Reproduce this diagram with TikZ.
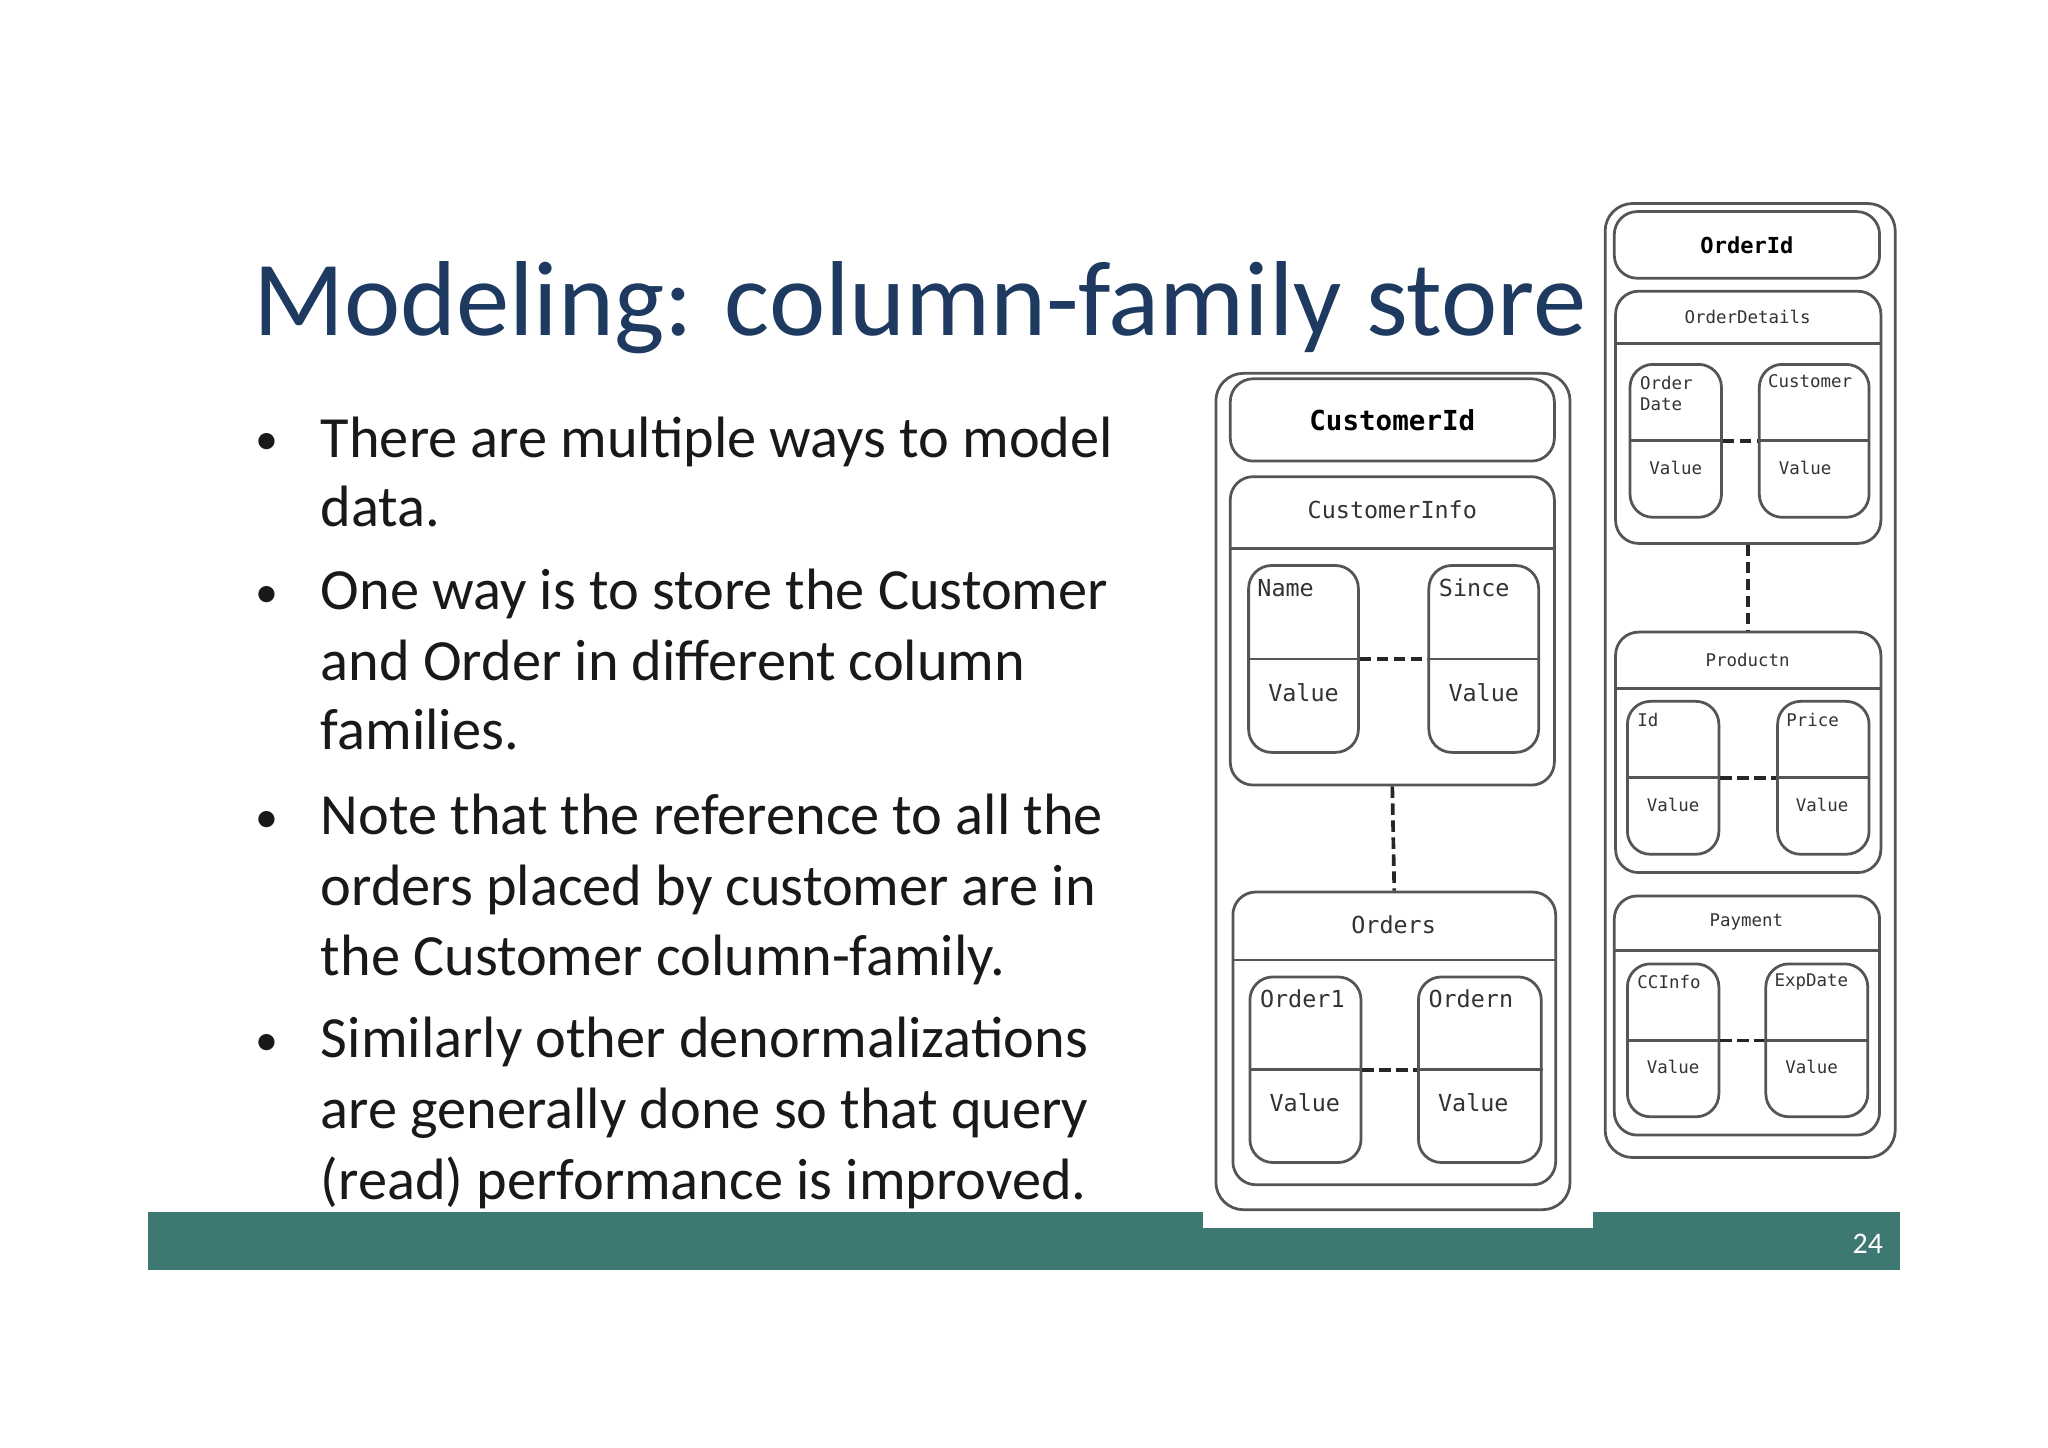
\documentclass[tikz,border=0pt]{standalone}
\usepackage{fontspec}
\setmainfont{Carlito}
\newfontfamily\cfmono{DejaVu Sans Mono}
\usetikzlibrary{positioning}
\definecolor{titleblue}{HTML}{1F3A60}
\definecolor{barteal}{HTML}{3D7872}
\definecolor{boxline}{HTML}{555555}

\begin{document}
\begin{tikzpicture}[x=0.01cm,y=-0.01cm]
    \tikzstyle{outer}=[draw=boxline,semithick,rounded corners=6pt,inner sep=0pt]
    \tikzstyle{family}=[draw=boxline,semithick,rounded corners=5pt,inner sep=0pt]
    \tikzstyle{col}=[draw=boxline,semithick,rounded corners=5pt,inner sep=0pt]
    \tikzstyle{lbl}=[font=\cfmono\fontsize{5.1}{6}\selectfont,text=black!80,inner sep=0pt]
    \tikzstyle{slbl}=[font=\cfmono\fontsize{3.8}{4.6}\selectfont,text=black!80,inner sep=0pt]
    \tikzstyle{link}=[thick,dash pattern=on 2.5pt off 1.2pt,draw=black!85]
    \tikzstyle{bullet}=[anchor=base west,font=\fontsize{12.7}{15}\selectfont,text=black!90]

    \useasboundingbox [fill=white] (0,0) rectangle (1568,1108);

    % slide text
    \node [anchor=base west,text=titleblue,font=\fontsize{23.2}{26}\selectfont,inner sep=0pt] (title) at (193,257) {Modeling: column-family store};
    \foreach \y/\t in {337/There are multiple ways to model,390/data.,
                       454/One way is to store the Customer,508/and Order in different column,561/families.,
                       626/Note that the reference to all the,680/orders placed by customer are in,734/the Customer column-family.,
                       797/Similarly other denormalizations,851/are generally done so that query,905/(read) performance is improved.}
        \node [bullet,inner sep=0pt] at (245,\y+13) {\t};
    \foreach \y in {337,454,626,797}
        \node [bullet,inner sep=0pt,font=\fontsize{10}{12}\selectfont] at (195,\y+11) {\textbullet};

    % footer bar
    \fill [barteal] (113,928) rectangle (1455,972);
    \fill [white] (921,928) rectangle (1220,940);
    \node [text=white,font=\fontsize{6.5}{8}\selectfont] (page) at (1430,952) {24};

    % customer side
    \node [outer,minimum width=2.71cm,minimum height=6.40cm] (custouter) at (1066.5,606) {};
    \node [family,minimum width=2.48cm,minimum height=0.63cm,font=\cfmono\bfseries\fontsize{6}{7}\selectfont] (custid) at (1066,321.5) {CustomerId};
    \node [family,minimum width=2.48cm,minimum height=2.36cm] (custinfo) at (1066,483) {};
    \draw [semithick,boxline] (942,420) -- (1190,420);
    \node [lbl] at (1066,390) {CustomerInfo};
    \node [col,minimum width=0.84cm,minimum height=1.43cm] (name) at (998,504.5) {};
    \node [col,minimum width=0.84cm,minimum height=1.43cm] (since) at (1136,504.5) {};
    \draw [semithick,boxline] (name.west) -- (name.east) (since.west) -- (since.east);
    \node [lbl,anchor=west] at (962,450) {Name};
    \node [lbl,anchor=west] at (1101,450) {Since};
    \node [lbl] at (998,530) {Value};
    \node [lbl] at (1136,530) {Value};
    \draw [link] (name.east) -- (since.west);
    \node [family,minimum width=2.47cm,minimum height=2.24cm] (orders) at (1067.5,795) {};
    \draw [semithick,boxline] (944,735) -- (1191,735);
    \node [lbl] at (1067,708) {Orders};
    \draw [link] (custinfo.south) -- (orders.north);
    \node [col,minimum width=0.85cm,minimum height=1.42cm] (order1) at (999.5,819) {};
    \node [col,minimum width=0.94cm,minimum height=1.42cm] (ordern) at (1133,819) {};
    \draw [semithick,boxline] (order1.west) -- (order1.east) (ordern.west) -- (ordern.east);
    \node [lbl,anchor=west] at (964,765) {Order1};
    \node [lbl,anchor=west] at (1093,765) {Ordern};
    \node [lbl] at (999,844) {Value};
    \node [lbl] at (1128,844) {Value};
    \draw [link] (order1.east) -- (ordern.west);

    % order side
    \node [outer,minimum width=2.22cm,minimum height=7.30cm] (ordouter) at (1340,521) {};
    \node [family,minimum width=2.03cm,minimum height=0.51cm,font=\cfmono\bfseries\fontsize{4.8}{6}\selectfont] (ordid) at (1337.5,187.5) {OrderId};
    \node [family,minimum width=2.03cm,minimum height=1.93cm] (orddet) at (1338.5,319.5) {};
    \draw [semithick,boxline] (1237,263) -- (1440,263);
    \node [slbl] at (1338,243) {OrderDetails};
    \node [col,minimum width=0.70cm,minimum height=1.17cm] (odate) at (1283,337.5) {};
    \node [col,minimum width=0.84cm,minimum height=1.17cm] (ocust) at (1389,337.5) {};
    \draw [semithick,boxline] (odate.west) -- (odate.east) (ocust.west) -- (ocust.east);
    \node [slbl,anchor=west,align=left] at (1255,301) {Order\\Date};
    \node [slbl,anchor=west] at (1353,292) {Customer};
    \node [slbl] at (1283,358) {Value};
    \node [slbl] at (1382,358) {Value};
    \draw [link] (odate.east) -- (ocust.west);
    \node [family,minimum width=2.03cm,minimum height=1.84cm] (prod) at (1338.5,576) {};
    \draw [semithick,boxline] (1237,527) -- (1440,527);
    \node [slbl] at (1338,505) {Productn};
    \draw [link] (orddet.south) -- (prod.north);
    \node [col,minimum width=0.70cm,minimum height=1.17cm] (pid) at (1281,595.5) {};
    \node [col,minimum width=0.70cm,minimum height=1.17cm] (price) at (1396,595.5) {};
    \draw [semithick,boxline] (pid.west) -- (pid.east) (price.west) -- (price.east);
    \node [slbl,anchor=west] at (1253,551) {Id};
    \node [slbl,anchor=west] at (1367,551) {Price};
    \node [slbl] at (1281,616) {Value};
    \node [slbl] at (1395,616) {Value};
    \draw [link] (pid.east) -- (price.west);
    \node [family,minimum width=2.03cm,minimum height=1.83cm] (pay) at (1337.5,777.5) {};
    \draw [semithick,boxline] (1236,728) -- (1439,728);
    \node [slbl] at (1337,706) {Payment};
    \node [col,minimum width=0.70cm,minimum height=1.17cm] (ccinfo) at (1281,796.5) {};
    \node [col,minimum width=0.78cm,minimum height=1.17cm] (expdate) at (1391,796.5) {};
    \draw [semithick,boxline] (ccinfo.west) -- (ccinfo.east) (expdate.west) -- (expdate.east);
    \node [slbl,anchor=west] at (1253,752) {CCInfo};
    \node [slbl,anchor=west] at (1358,752) {ExpDate};
    \node [slbl] at (1281,817) {Value};
    \node [slbl] at (1387,817) {Value};
    \draw [link] (ccinfo.east) -- (expdate.west);
\end{tikzpicture}
\end{document}
